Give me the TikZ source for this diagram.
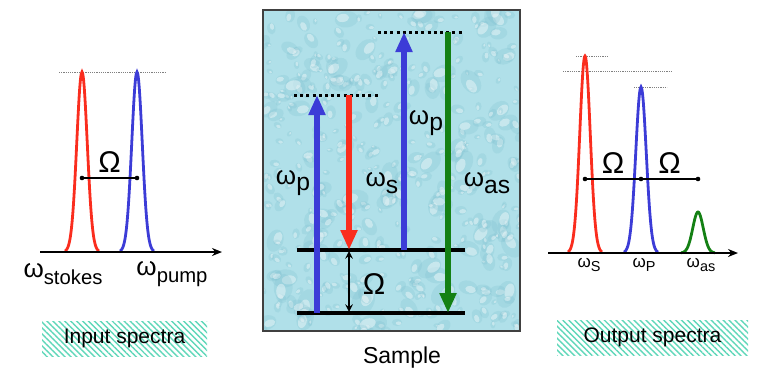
\documentclass[tikz,border=0pt]{standalone}
\usepackage{fontspec}
\setmainfont{Liberation Sans}
\usetikzlibrary{arrows.meta,patterns.meta}
\tikzset{>=stealth}

\definecolor{stokesred}{RGB}{250,45,30}
\definecolor{pumpblue}{RGB}{60,60,215}
\definecolor{asgreen}{RGB}{20,128,20}
\definecolor{water}{RGB}{176,224,233}
\definecolor{drop}{RGB}{120,188,204}
\definecolor{hatch}{RGB}{95,215,185}

% omega with a lowered index
\newcommand{\wsub}[2]{ω\raisebox{-0.5ex}{\scalebox{#2}{#1}}}
% one spectral line: colour, centre, base, height
\newcommand{\specpeak}[4]{\draw[peak,#1] plot[domain=-17:17,samples=45,smooth] ({#2+\x},{#3-#4*exp(-\x*\x/55)});}

\begin{document}
\begin{tikzpicture}[x=0.5pt,y=-0.5pt,
    peak/.style={line width=1.4pt},
    axis/.style={line width=1pt,-{Stealth[length=5pt,width=4pt]}},
    level/.style={line width=1.6pt},
    trans/.style={line width=2.6pt,-{Triangle[width=8pt,length=10pt]}},
    virt/.style={line width=1.5pt,dash pattern=on 1.5pt off 1.6pt},
    ref/.style={gray,line width=0.5pt,dash pattern=on 0.6pt off 0.5pt},
    omline/.style={line width=0.9pt},
    big/.style={font=\fontsize{13}{15}\selectfont},
    omg/.style={font=\fontsize{15}{17}\selectfont},
    small/.style={font=\fontsize{8.5}{10}\selectfont},
    caption/.style={font=\fontsize{10.5}{12}\selectfont},
    specbox/.style={caption,minimum height=17.5pt,inner sep=0pt,
      pattern={Lines[angle=-45,distance=2.1pt,line width=0.7pt]},pattern color=hatch}]
  \useasboundingbox (0,0) rectangle (760,381);

  % input spectra
  \coordinate (inax1) at (40,252);
  \coordinate (inax2) at (222,252);
  \draw[ref] (59,72) -- (166,72);
  \specpeak{stokesred}{82}{252}{180}
  \specpeak{pumpblue}{137}{252}{180}
  \draw[axis] (inax1) -- (inax2);
  \coordinate (ins) at (82,178);
  \coordinate (inp) at (137,178);
  \draw[omline] (ins) -- (inp) node[midway,above=-1pt,omg] (inom) {Ω};
  \fill (ins) circle (2.3) (inp) circle (2.3);
  \node[big] (wstokes) at (63,274) {\wsub{stokes}{0.78}};
  \node[big] (wpump) at (172,274) {\wsub{pump}{0.78}};
  \node[specbox,minimum width=82.5pt] (inbox) at (124.5,338.5) {Input spectra};

  % sample with energy levels
  \fill[water] (263,10) rectangle (520,331);
  \begin{scope}
    \clip (263,10) rectangle (520,331);
    \pgfmathsetseed{11}
    \foreach \i in {1,...,420}{
      \pgfmathsetmacro\dx{263+257*rnd}
      \pgfmathsetmacro\dy{10+321*rnd}
      \pgfmathsetmacro\rr{3+13*rnd*rnd}
      \pgfmathsetmacro\ang{360*rnd}
      \fill[drop,opacity=0.22,rotate around={\ang:(\dx,\dy)}] (\dx,\dy) ellipse ({\rr} and {0.7*\rr});
      \fill[white,opacity=0.4,rotate around={\ang:(\dx,\dy)}] (\dx-0.3*\rr,\dy-0.15*\rr) ellipse ({0.55*\rr} and {0.35*\rr});
    }
  \end{scope}
  \draw[line width=0.8pt,black!75] (263,10) rectangle (520,331);

  \coordinate (g1) at (297,313);
  \coordinate (g2) at (465,313);
  \coordinate (e1) at (297,250);
  \coordinate (e2) at (465,250);
  \coordinate (v1a) at (294,95);
  \coordinate (v1b) at (378,95);
  \coordinate (v2a) at (378,32);
  \coordinate (v2b) at (462,32);
  \draw[virt] (v1a) -- (v1b);
  \draw[virt] (v2a) -- (v2b);
  \draw[level] (g1) -- (g2);
  \draw[level] (e1) -- (e2);
  \draw[trans,pumpblue] (317,313) -- (317,95);
  \draw[trans,stokesred] (349,95) -- (349,250);
  \draw[trans,pumpblue] (404,250) -- (404,32);
  \draw[trans,asgreen] (448,32) -- (448,313);
  \draw[<->,line width=0.7pt] (349,251) -- (349,312);
  \node[omg] (omega) at (374,284) {Ω};
  \node[big] (wp1) at (293,183) {\wsub{p}{0.95}};
  \node[big] (ws) at (382,183) {\wsub{s}{0.95}};
  \node[big] (wp2) at (426,123) {\wsub{p}{0.95}};
  \node[big] (was) at (487,183) {\wsub{as}{0.95}};
  \node[font=\fontsize{11.5}{13}\selectfont] (sample) at (402,358) {Sample};

  % output spectra
  \coordinate (outax1) at (548,253);
  \coordinate (outax2) at (738,253);
  \draw[ref] (576,56) -- (608,56);
  \draw[ref] (563,71) -- (671,71);
  \draw[ref] (634,87) -- (667,87);
  \specpeak{stokesred}{585}{253}{197}
  \specpeak{pumpblue}{641}{253}{166}
  \specpeak{asgreen}{698}{253}{41}
  \draw[axis] (outax1) -- (outax2);
  \coordinate (outs) at (585,179);
  \coordinate (outp) at (641,179);
  \coordinate (outa) at (698,179);
  \draw[omline] (outs) -- (outp) node[midway,above=-1pt,omg] (outom1) {Ω};
  \draw[omline] (outp) -- (outa) node[midway,above=-1pt,omg] (outom2) {Ω};
  \fill (outs) circle (2.3) (outp) circle (2.3) (outa) circle (2.3);
  \node[small] (ows) at (589,265) {\wsub{S}{0.85}};
  \node[small] (owp) at (644,265) {\wsub{P}{0.85}};
  \node[small] (owas) at (701,265) {\wsub{as}{0.85}};
  \node[specbox,minimum width=95.5pt] (outbox) at (652.5,337.5) {Output spectra};
\end{tikzpicture}
\end{document}
